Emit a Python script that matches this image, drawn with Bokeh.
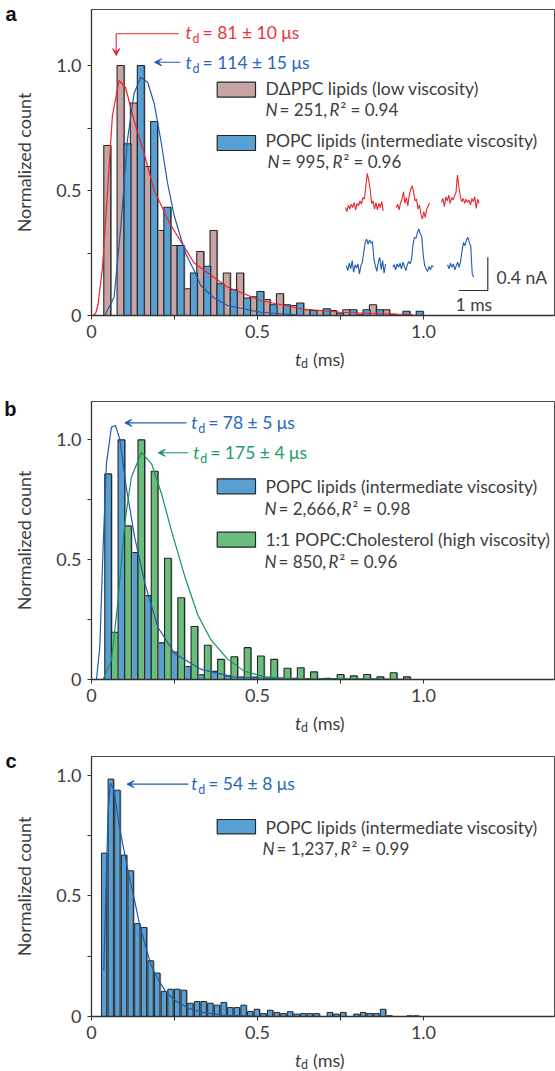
import numpy as np
from bokeh.plotting import figure
from bokeh.models import (Range1d, FixedTicker, CustomJSTickFormatter, Label,
                          BoxAnnotation, Arrow, VeeHead, LinearAxis, Div)
from bokeh.layouts import column
from bokeh.embed import file_html
from bokeh.resources import INLINE

# ---------------- data ----------------
# panel a: bins of 0.04 ms (DΔPPC left half, POPC right half)
td_a = [0.058, 0.098, 0.138, 0.178, 0.218, 0.258, 0.298, 0.338, 0.378, 0.418, 0.458, 0.498,
        0.538, 0.578, 0.618, 0.658, 0.698, 0.738, 0.778, 0.818, 0.858, 0.898, 0.938, 0.978]
dppc_a = [0.68, 1.0, 0.85, 0.596, 0.34, 0.28, 0.107, 0.256, 0.34, 0.17, 0.17, 0.075,
          0.064, 0.087, 0.04, 0.023, 0.02, 0.02, 0.023, 0.005, 0.043, 0.023, 0.0, 0.0]
popc_a = [0.0, 0.687, 1.0, 0.776, 0.433, 0.28, 0.17, 0.197, 0.127, 0.104, 0.07, 0.096,
          0.043, 0.043, 0.05, 0.02, 0.027, 0.01, 0.023, 0.023, 0.023, 0.005, 0.017, 0.017]
fit_dppc_a_x = [0.005, 0.013, 0.02, 0.033, 0.048, 0.063, 0.083, 0.103, 0.128, 0.158, 0.189,
                0.235, 0.309, 0.41, 0.51, 0.63, 0.75, 0.97]
fit_dppc_a_y = [0.0, 0.01, 0.047, 0.19, 0.49, 0.80, 0.94, 0.91, 0.78, 0.65, 0.50,
                0.37, 0.21, 0.113, 0.06, 0.027, 0.013, 0.003]
fit_popc_a_x = [0.04, 0.068, 0.088, 0.108, 0.128, 0.148, 0.169, 0.189, 0.209, 0.229, 0.249,
                0.269, 0.284, 0.309, 0.329, 0.369, 0.41, 0.51, 0.62]
fit_popc_a_y = [0.0, 0.073, 0.35, 0.70, 0.887, 0.953, 0.933, 0.847, 0.70, 0.53, 0.40,
                0.31, 0.247, 0.18, 0.12, 0.07, 0.04, 0.013, 0.003]

# panel b
td_b = [0.06, 0.10, 0.14, 0.18, 0.22, 0.26, 0.30, 0.34, 0.38, 0.42, 0.46, 0.50,
        0.54, 0.58, 0.62, 0.66, 0.70, 0.74, 0.78, 0.82, 0.86, 0.90, 0.94, 0.98]
popc_b = [0.858, 1.0, 0.53, 0.35, 0.153, 0.115, 0.054, 0.02, 0.034, 0.015, 0.01, 0.01,
          0.006, 0.006, 0.005, 0.004, 0.003, 0.003, 0.002, 0.002, 0.002, 0.001, 0.001, 0.0]
chol_b = [0.197, 0.641, 1.0, 0.869, 0.506, 0.341, 0.221, 0.143, 0.084, 0.095, 0.133, 0.098,
          0.084, 0.047, 0.049, 0.032, 0.005, 0.021, 0.015, 0.021, 0.011, 0.028, 0.011, 0.0]
fit_popc_b_x = [0.015, 0.025, 0.035, 0.045, 0.06, 0.072, 0.085, 0.105, 0.13, 0.161, 0.2,
                0.251, 0.331, 0.43, 0.6, 0.98]
fit_popc_b_y = [0.0, 0.135, 0.552, 0.90, 1.053, 1.06, 1.004, 0.80, 0.594, 0.40, 0.218,
                0.107, 0.042, 0.01, 0.002, 0.0]
fit_chol_b_x = [0.035, 0.06, 0.08, 0.1, 0.12, 0.151, 0.181, 0.211, 0.241, 0.281, 0.32,
                0.36, 0.41, 0.46, 0.52, 0.6, 0.95]
fit_chol_b_y = [0.0, 0.079, 0.33, 0.65, 0.844, 0.948, 0.90, 0.775, 0.62, 0.43, 0.27,
                0.165, 0.085, 0.035, 0.012, 0.003, 0.0]

# panel c: bins of 0.02 ms
td_c = [0.04, 0.06, 0.08, 0.10, 0.12, 0.14, 0.16, 0.18, 0.20, 0.22, 0.24, 0.26,
        0.28, 0.30, 0.32, 0.34, 0.36, 0.38, 0.40, 0.42, 0.44, 0.46, 0.48, 0.50,
        0.52, 0.54, 0.56, 0.58, 0.60, 0.62, 0.64, 0.66, 0.68, 0.70, 0.72, 0.74,
        0.76, 0.78, 0.80, 0.82, 0.84, 0.86, 0.88, 0.90, 0.92, 0.94, 0.96, 0.98]
popc_c = [0.677, 0.984, 0.938, 0.669, 0.604, 0.385, 0.369, 0.231, 0.18, 0.104, 0.113, 0.113,
          0.109, 0.055, 0.062, 0.062, 0.055, 0.047, 0.058, 0.037, 0.037, 0.047, 0.021, 0.03,
          0.012, 0.026, 0.017, 0.012, 0.02, 0.01, 0.012, 0.012, 0.012, 0.0, 0.017, 0.01,
          0.017, 0.0, 0.01, 0.017, 0.012, 0.012, 0.03, 0.003, 0.0, 0.0, 0.003, 0.003]
fit_popc_c_x = [0.037, 0.043, 0.05, 0.057, 0.065, 0.075, 0.082, 0.092, 0.102, 0.115, 0.13,
                0.145, 0.163, 0.18, 0.203, 0.225, 0.253, 0.29, 0.333, 0.4, 0.5]
fit_popc_c_y = [0.19, 0.5, 0.85, 0.965, 0.95, 0.87, 0.80, 0.73, 0.66, 0.57, 0.48,
                0.38, 0.29, 0.21, 0.148, 0.10, 0.065, 0.035, 0.017, 0.005, 0.001]

# inset current traces (nA relative to baseline, 0.05 ms sampling)
trace_dt = 0.05
red_trace_1 = [0.00, -0.05, 0.03, -0.02, 0.04, 0.00, 0.06, -0.03, 0.05, 0.02, 0.08, 0.04, 0.12,
               0.10, 0.25, 0.41, 0.33, 0.22, 0.05, 0.08, -0.02, 0.06, -0.03, 0.05, 0.00, 0.07, -0.04]
red_trace_2 = [0.00, 0.04, -0.03, 0.06, 0.10, 0.19, 0.05, 0.12, 0.02, 0.15, 0.22, 0.26,
               0.18, 0.08, 0.10, -0.02, 0.03, -0.08, -0.14, -0.05, -0.12, -0.02, 0.02, 0.05]
red_trace_3 = [0.03, 0.08, -0.02, 0.10, 0.05, 0.12, 0.02, 0.09, 0.06, 0.11, 0.15, 0.36, 0.22,
               0.10, 0.04, 0.08, 0.02, 0.07, 0.03, 0.06, 0.00, 0.08, 0.04, 0.10, -0.04, 0.07, 0.02]
blue_trace_1 = [0.02, -0.04, 0.05, -0.02, 0.08, -0.06, 0.03, -0.01, 0.04, -0.08, 0.02, 0.06, 0.18,
                0.30, 0.34, 0.28, 0.33, 0.29, 0.31, 0.10, 0.02, -0.05, 0.06, 0.12, -0.03, 0.08, -0.07, 0.04]
blue_trace_2 = [0.00, 0.03, -0.03, 0.04, 0.00, 0.05, -0.02, 0.06, 0.01, -0.04, 0.03, 0.07, 0.04,
                0.10, 0.28, 0.36, 0.35, 0.42, 0.46, 0.40, 0.37, 0.15, 0.02, -0.02, -0.05, 0.01,
                -0.03, 0.02, 0.00]
blue_trace_3 = [0.03, -0.02, 0.05, 0.00, 0.04, -0.03, 0.02, 0.06, 0.00, 0.08, 0.20, 0.30, 0.26,
                0.33, 0.36, 0.30, 0.25, -0.08, -0.12]
scale_time_ms = 1.0
scale_current_nA = 0.4

# ---------------- style ----------------
TXT = "#3d3d3d"
FONT = "Lato"
PINK, BLUE, GREEN = "#c9a4a4", "#58a0d3", "#69be7d"
RED_L, BLUE_L, GREEN_L = "#e8262c", "#1f5cb0", "#14965a"
RED_T, BLUE_T, GREEN_T = "#e8353a", "#2a66bd", "#1e9e62"
EDGE = "#262626"
SHADOW = "#9a9a9a"
XMAX = 1.3946
FL = 91  # absolute left of every frame (page px)

fmt_code = """
if (Math.abs(tick) < 1e-9) return "0";
if (Math.abs(tick - 0.25) < 1e-6 || Math.abs(tick - 0.75) < 1e-6) return "";
return tick.toFixed(1);
"""


def make_fig(h, top, bottom, ymax):
    p = figure(width=555, height=h, x_range=Range1d(0, XMAX), y_range=Range1d(0, ymax),
               output_backend="svg", toolbar_location=None, title=None,
               min_border_left=91, min_border_right=1, min_border_top=top,
               min_border_bottom=bottom)
    p.grid.visible = False
    p.outline_line_color = "#4d4d4d"
    p.outline_line_width = 1
    for ax in (p.xaxis[0], p.yaxis[0]):
        ax.ticker = FixedTicker(ticks=[0, 0.25, 0.5, 0.75, 1.0], minor_ticks=[])
        ax.formatter = CustomJSTickFormatter(code=fmt_code)
        ax.major_tick_in = 0
        ax.major_tick_out = 4
        ax.minor_tick_in = 0
        ax.minor_tick_out = 0
        ax.axis_line_color = "#333333"
        ax.axis_line_width = 1.3
        ax.major_tick_line_color = "#333333"
        ax.major_label_text_font = FONT
        ax.major_label_text_font_size = "18px"
        ax.major_label_text_color = TXT
    p.xaxis.major_label_standoff = 5
    p.yaxis.major_label_standoff = 6
    p.yaxis.axis_label = "Normalized count"
    p.yaxis.axis_label_text_font = FONT
    p.yaxis.axis_label_text_font_size = "18px"
    p.yaxis.axis_label_text_font_style = "normal"
    p.yaxis.axis_label_text_color = TXT
    p.yaxis.axis_label_standoff = 18
    return p


def panel_letter(p, letter, yval):
    ax = LinearAxis(ticker=FixedTicker(ticks=[yval], minor_ticks=[]),
                    formatter=CustomJSTickFormatter(code='return "%s";' % letter),
                    axis_line_color=None, major_tick_line_color=None,
                    minor_tick_line_color=None, major_tick_out=0, major_tick_in=0,
                    minor_tick_out=0, minor_tick_in=0, major_label_standoff=-6,
                    major_label_text_font="Liberation Sans",
                    major_label_text_font_size="20px",
                    major_label_text_font_style="bold",
                    major_label_text_color="#111111")
    p.add_layout(ax, "left")


def lbl(p, fb, X, Y, text, size="17.5px", color=TXT, style="normal", font=FONT):
    p.add_layout(Label(x=X - FL, y=fb - Y, x_units="screen", y_units="screen", text=text,
                       text_font=font, text_font_size=size, text_color=color,
                       text_font_style=style, text_baseline="middle", text_align="left"))


def nrow(p, fb, Y, xn, xeq, neq, xr, rest):
    lbl(p, fb, xn, Y, "N", size="17px", style="italic")
    lbl(p, fb, xeq, Y, neq, size="17px")
    lbl(p, fb, xr, Y, "R", size="17px", style="italic")
    lbl(p, fb, xr + 11, Y, rest, size="17px")


def swatch(p, fb, y0, y1, color):
    p.add_layout(BoxAnnotation(left=216.7 - FL, right=255 - FL, top=fb - y0, bottom=fb - y1,
                               left_units="screen", right_units="screen",
                               top_units="screen", bottom_units="screen",
                               fill_color=color, fill_alpha=1.0, line_color=EDGE,
                               line_alpha=1.0, line_width=1.2))


def td_label(p, fb, X, Y, rest, color, size="17.5px"):
    lbl(p, fb, X, Y, "t", size=size, color=color, style="italic")
    lbl(p, fb, X + 7, Y + 6, "d", size="12.5px", color=color)
    lbl(p, fb, X + 17, Y, rest, size=size, color=color)


def xlabel_div(h):
    html = ('<div style="position:relative; width:555px; height:%dpx; font-family:Lato; '
            'color:%s; white-space:nowrap;">'
            '<span style="position:absolute; left:295px; top:2px; font-size:18px; '
            'line-height:18px; font-style:italic;">t</span>'
            '<span style="position:absolute; left:301px; top:10px; font-size:12.5px; '
            'line-height:12.5px;">d</span>'
            '<span style="position:absolute; left:313px; top:2px; font-size:18px; '
            'line-height:18px;">(ms)</span></div>') % (h, TXT)
    return Div(text=html, width=555, height=h, margin=0)


def bars(p, x, top, width, color, shadow_dx):
    xs = np.asarray(x)
    p.vbar(x=xs + shadow_dx, top=top, width=width, bottom=0, fill_color=SHADOW,
           line_color=None)
    p.vbar(x=xs, top=top, width=width, bottom=0, fill_color=color, line_color=EDGE,
           line_width=1.1)


def arrow(p, x0, y0, x1, y1, color, head=True):
    end = VeeHead(size=7, line_color=color, fill_color=color, line_width=1) if head else None
    p.add_layout(Arrow(end=end, x_start=x0, y_start=y0, x_end=x1, y_end=y1,
                       line_color=color, line_width=1.1))


# ---------------- panel a ----------------
FBa = 315
pa = make_fig(348, 9, 33, 1.224)
tdA = np.asarray(td_a)
bars(pa, tdA - 0.0105, dppc_a, 0.021, PINK, 0.0035)
bars(pa, tdA + 0.0105, popc_a, 0.021, BLUE, 0.0035)
pa.line(fit_dppc_a_x, fit_dppc_a_y, line_color=RED_L, line_width=1.2)
pa.line(fit_popc_a_x, fit_popc_a_y, line_color=BLUE_L, line_width=1.2)

arrow(pa, 0.263, 1.127, 0.0744, 1.127, RED_L, head=False)
arrow(pa, 0.0744, 1.127, 0.0744, 1.04, RED_L)
arrow(pa, 0.268, 1.013, 0.19, 1.013, BLUE_L)
td_label(pa, FBa, 185, 32, "= 81 ± 10 μs", RED_T)
td_label(pa, FBa, 185, 62, "= 114 ± 15 μs", BLUE_T)

swatch(pa, FBa, 81.7, 96.7, PINK)
swatch(pa, FBa, 135, 150, BLUE)
lbl(pa, FBa, 265, 88, "DΔPPC lipids (low viscosity)")
nrow(pa, FBa, 109, 265, 279, "= 251,", 329, "² = 0.94")
lbl(pa, FBa, 265, 140, "POPC lipids (intermediate viscosity)")
nrow(pa, FBa, 161, 267, 281, "= 995,", 332, "² = 0.96")

# inset traces in their own time/current ranges
pa.extra_x_ranges = {"tr_t": Range1d(-8.7586, 7.2069)}
pa.extra_y_ranges = {"tr_i": Range1d(-0.3012, 3.3855)}
for vals, t0, base, col in [(red_trace_1, 0.0, 1.0, RED_L), (red_trace_2, 1.75, 1.0, RED_L),
                            (red_trace_3, 3.31, 1.03, RED_L),
                            (blue_trace_1, 0.03, 0.28, BLUE_L), (blue_trace_2, 1.63, 0.28, BLUE_L),
                            (blue_trace_3, 3.52, 0.28, BLUE_L)]:
    t = t0 + trace_dt * np.arange(len(vals))
    pa.line(t, base + np.asarray(vals), line_color=col, line_width=1.1,
            x_range_name="tr_t", y_range_name="tr_i")
sb_x = 4.907
pa.line([sb_x - scale_time_ms, sb_x, sb_x], [0, 0, scale_current_nA], line_color="#333333",
        line_width=1.2, x_range_name="tr_t", y_range_name="tr_i")
lbl(pa, FBa, 496, 277, "0.4 nA")
lbl(pa, FBa, 455, 304, "1 ms")
panel_letter(pa, "a", (FBa - 13) / 250)

# ---------------- panel b ----------------
FBb = 679
pb = make_fig(327, 16, 33, 1.16)
tdB = np.asarray(td_b)
bars(pb, tdB - 0.01, popc_b, 0.02, BLUE, 0.0035)
bars(pb, tdB + 0.01, chol_b, 0.02, GREEN, 0.0035)
pb.line(fit_popc_b_x, fit_popc_b_y, line_color=BLUE_L, line_width=1.2)
pb.line(fit_chol_b_x, fit_chol_b_y, line_color=GREEN_L, line_width=1.2)

arrow(pb, 0.286, 1.071, 0.1003, 1.071, BLUE_L)
arrow(pb, 0.291, 0.946, 0.201, 0.946, GREEN_L)
td_label(pb, FBb, 190.7, 422, "= 78 ± 5 μs", BLUE_T)
td_label(pb, FBb, 192.7, 452, "= 175 ± 4 μs", GREEN_T)

swatch(pb, FBb, 478.3, 493.3, BLUE)
swatch(pb, FBb, 531.7, 546.7, GREEN)
lbl(pb, FBb, 265, 486, "POPC lipids (intermediate viscosity)")
nrow(pb, FBb, 508, 264, 278, "= 2,666,", 341, "² = 0.98")
lbl(pb, FBb, 265, 539, "1:1 POPC:Cholesterol (high viscosity)")
nrow(pb, FBb, 561, 264, 278, "= 850,", 328, "² = 0.96")
panel_letter(pb, "b", (FBb - 408) / 239.7)

# ---------------- panel c ----------------
FBc = 1016
pc = make_fig(309, 16, 33, 1.0775)
tdC = np.asarray(td_c)
pc.vbar(x=tdC, top=popc_c, width=0.02, bottom=0, fill_color=SHADOW, line_color=None)
pc.vbar(x=tdC - 0.002, top=popc_c, width=0.016, bottom=0, fill_color=BLUE,
        line_color=EDGE, line_width=1.0)
pc.line(fit_popc_c_x, fit_popc_c_y, line_color=BLUE_L, line_width=1.2)

arrow(pc, 0.292, 0.963, 0.107, 0.963, BLUE_L)
td_label(pc, FBc, 190.7, 783, "= 54 ± 8 μs", BLUE_T)

swatch(pc, FBc, 819, 833.3, BLUE)
lbl(pc, FBc, 265, 827, "POPC lipids (intermediate  viscosity)")
nrow(pc, FBc, 848, 262, 276, "= 1,237,", 340, "² = 0.99")
panel_letter(pc, "c", (FBc - 760) / 241.3)

layout = column(pa, xlabel_div(37), pb, xlabel_div(28), pc, xlabel_div(22), spacing=0)
open("out.html", "w").write(file_html(layout, INLINE))
